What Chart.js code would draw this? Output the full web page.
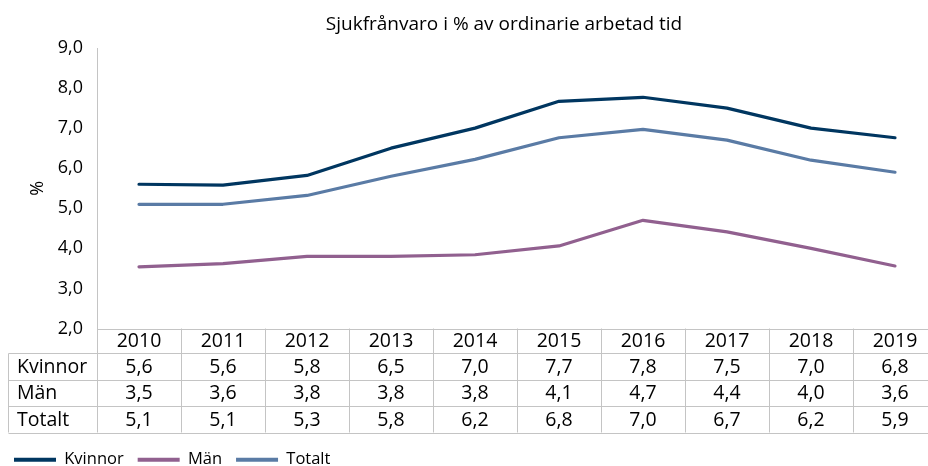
<!DOCTYPE html>
<html>
<head>
<meta charset="utf-8">
<script src="https://cdn.jsdelivr.net/npm/chart.js@4"></script>
<style>
  html, body { margin: 0; padding: 0; overflow: hidden; background: #fff; }
  #wrap { position: relative; width: 940px; height: 466px; }
</style>
</head>
<body>
<div id="wrap"><canvas id="c"></canvas></div>
<script>
const years   = ['2010', '2011', '2012', '2013', '2014', '2015', '2016', '2017', '2018', '2019']
const kvinnor = [5.6, 5.58, 5.82, 6.5, 7.0, 7.67, 7.77, 7.5, 7.0, 6.76]
const man     = [3.54, 3.62, 3.8, 3.8, 3.84, 4.06, 4.7, 4.41, 4.0, 3.56]
const totalt  = [5.1, 5.1, 5.32, 5.8, 6.22, 6.76, 6.97, 6.7, 6.2, 5.9]

const COLORS = { kvinnor: '#003660', man: '#91608f', totalt: '#5a7ba5' }
const GRID = '#c4c4c4'
const FONT = "'Open Sans', sans-serif"

Chart.defaults.font.family = FONT
Chart.defaults.color = '#000'

const fmt = v => v.toFixed(1).replace('.', ',')

// title + data table under the plot, drawn from the x scale
const tablePlugin = {
  id: 'table',
  afterDraw(chart) {
    const { ctx, chartArea: a } = chart
    const x = chart.scales.x
    const colW = x.getPixelForValue(1) - x.getPixelForValue(0)
    const top = a.bottom, headH = 24.5, rowH = 26.5
    const rows = [['Kvinnor', kvinnor], ['Män', man], ['Totalt', totalt]]
    const bottom = top + headH + rowH * rows.length
    const leftEdge = 8.5
    const edge = i => Math.round(x.getPixelForValue(i) - colW / 2) + 0.5

    ctx.save()
    ctx.strokeStyle = GRID
    ctx.lineWidth = 1
    ctx.beginPath()
    // axis line through table
    ctx.moveTo(edge(0), a.top); ctx.lineTo(edge(0), bottom)
    ctx.moveTo(edge(0), Math.round(top) + 0.5); ctx.lineTo(edge(years.length), Math.round(top) + 0.5)
    for (let r = 0; r <= rows.length; r++) {
      const y = Math.round(top + headH + r * rowH) + 0.5
      ctx.moveTo(leftEdge, y); ctx.lineTo(edge(years.length), y)
    }
    ctx.moveTo(leftEdge, Math.round(top + headH) + 0.5); ctx.lineTo(leftEdge, bottom)
    for (let i = 1; i <= years.length; i++) {
      ctx.moveTo(edge(i), top); ctx.lineTo(edge(i), bottom)
    }
    ctx.stroke()

    ctx.fillStyle = '#000'
    ctx.font = `19.5px ${FONT}`
    ctx.textBaseline = 'middle'
    ctx.textAlign = 'center'
    years.forEach((yr, i) => ctx.fillText(yr, x.getPixelForValue(i), top + headH / 2 + 1))
    rows.forEach(([label, vals], r) => {
      const cy = top + headH + r * rowH + rowH / 2 + 1
      ctx.textAlign = 'left'
      ctx.fillText(label, 17, cy)
      ctx.textAlign = 'center'
      vals.forEach((v, i) => ctx.fillText(fmt(v), x.getPixelForValue(i), cy))
    })

    // title
    ctx.font = `19px ${FONT}`
    ctx.textAlign = 'center'
    ctx.textBaseline = 'alphabetic'
    ctx.fillText('Sjukfrånvaro i % av ordinarie arbetad tid', 504, 30)
    ctx.restore()
  }
}

const line = (label, data, color) => ({
  label, data,
  borderColor: color, backgroundColor: color,
  borderWidth: 3.2, pointRadius: 0, tension: 0,
  borderJoinStyle: 'round', borderCapStyle: 'round',
})

new Chart(document.getElementById('c'), {
  type: 'line',
  data: {
    labels: years,
    datasets: [
      line('Kvinnor', kvinnor, COLORS.kvinnor),
      line('Män', man, COLORS.man),
      line('Totalt', totalt, COLORS.totalt),
    ],
  },
  options: {
    responsive: true, maintainAspectRatio: false, animation: false,
    layout: { padding: { top: 48, left: 0, right: 3, bottom: -12 } },
    plugins: {
      title: { display: false },
      tooltip: { enabled: false },
      legend: {
        position: 'bottom', align: 'start',
        labels: {
          boxWidth: 42, boxHeight: 4, padding: 14,
          font: { size: 16.5 },
          generateLabels: chart => Chart.defaults.plugins.legend.labels.generateLabels(chart)
            .map(l => ({ ...l, lineWidth: 0, fillStyle: l.strokeStyle })),
        },
      },
    },
    scales: {
      x: {
        type: 'category', offset: true,
        grid: { display: false, drawTicks: false },
        border: { display: false },
        ticks: { display: false },
        afterFit: s => { s.height = 109 },
      },
      y: {
        min: 2, max: 9,
        grid: { display: false, drawTicks: false },
        border: { display: false },
        ticks: { stepSize: 1, padding: 14, font: { size: 18 }, callback: v => fmt(v) },
        title: { display: true, text: '%', font: { size: 18 }, padding: { top: 27 } },
        afterFit: s => { s.width = 97 },
      },
    },
  },
  plugins: [tablePlugin],
})
</script>
</body>
</html>
